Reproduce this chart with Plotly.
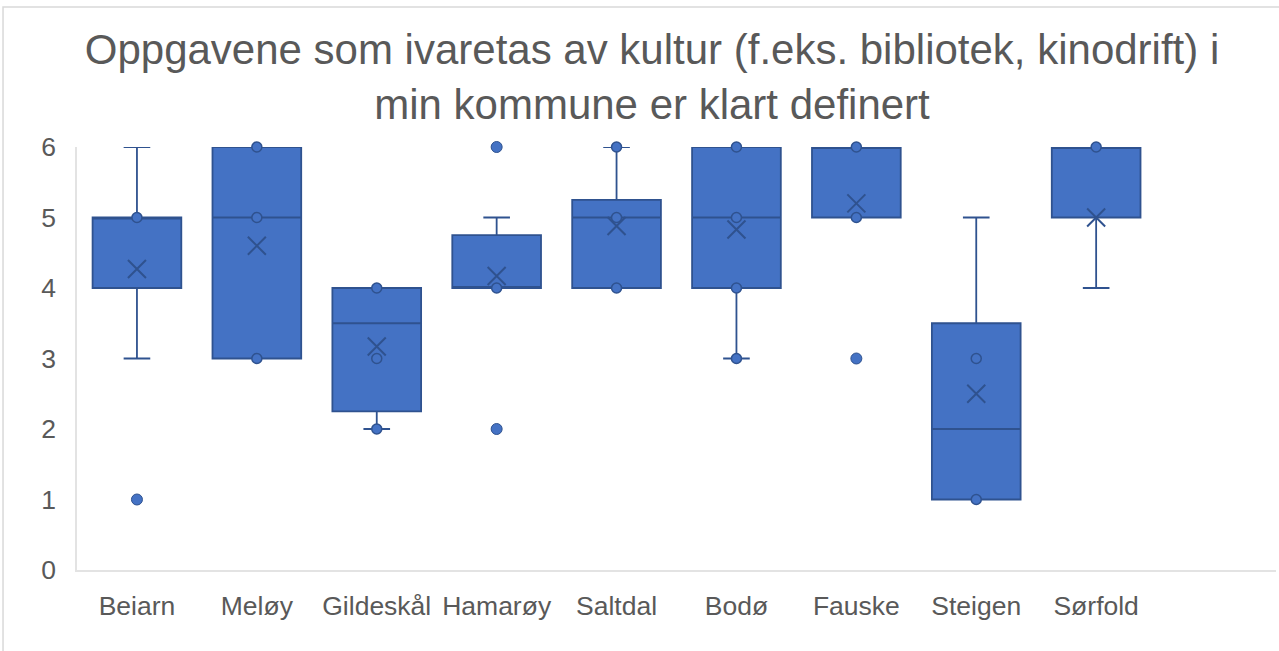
import plotly.graph_objects as go

categories = ["Beiarn", "Meløy", "Gildeskål", "Hamarøy", "Saltdal", "Bodø", "Fauske", "Steigen", "Sørfold"]
q1 = [4, 3, 2.25, 4, 4, 4, 5, 1, 5]
median = [5, 5, 3.5, 4, 5, 5, 6, 2, 6]
q3 = [5, 6, 4, 4.75, 5.25, 6, 6, 3.5, 6]
lower_whisker = [3, 3, 2, 4, 4, 3, 5, 1, 4]
upper_whisker = [6, 6, 4, 5, 6, 6, 6, 5, 6]
means = [4.27, 4.6, 3.17, 4.17, 4.88, 4.83, 5.2, 2.5, 5.0]

inner_cat = ["Beiarn", "Meløy", "Meløy", "Meløy", "Gildeskål", "Gildeskål", "Gildeskål", "Hamarøy",
             "Saltdal", "Saltdal", "Saltdal", "Bodø", "Bodø", "Bodø", "Bodø", "Fauske", "Fauske",
             "Steigen", "Steigen", "Sørfold"]
inner_val = [5, 6, 5, 3, 4, 3, 2, 4, 6, 5, 4, 6, 5, 4, 3, 6, 5, 3, 1, 6]
outlier_cat = ["Beiarn", "Hamarøy", "Hamarøy", "Fauske"]
outlier_val = [1, 6, 2, 3]

FILL = "#4472C4"
EDGE = "#2F528F"
TEXT = "#595959"
FONT = "Liberation Sans, Arial, sans-serif"

fig = go.Figure()
fig.add_trace(go.Box(
    x=categories, q1=q1, median=median, q3=q3,
    lowerfence=lower_whisker, upperfence=upper_whisker,
    fillcolor=FILL, line=dict(color=EDGE, width=1.8),
    width=0.74, whiskerwidth=0.3, boxpoints=False, showlegend=False, hoverinfo="skip",
))
fig.add_trace(go.Scatter(
    x=inner_cat, y=inner_val, mode="markers", cliponaxis=False, showlegend=False,
    marker=dict(symbol="circle", size=10, color=FILL, line=dict(color=EDGE, width=1.5)),
))
fig.add_trace(go.Scatter(
    x=outlier_cat, y=outlier_val, mode="markers", cliponaxis=False, showlegend=False,
    marker=dict(symbol="circle", size=11, color=FILL, line=dict(color=EDGE, width=1)),
))
fig.add_trace(go.Scatter(
    x=categories, y=means, mode="markers", cliponaxis=False, showlegend=False,
    marker=dict(symbol="x-thin", size=18, line=dict(color=EDGE, width=2)),
))

fig.add_shape(type="rect", xref="paper", yref="paper",
              x0=-0.0617, x1=1.05, y0=-0.4, y1=1.331,
              line=dict(color="#d9d9d9", width=1.5), fillcolor="rgba(0,0,0,0)", layer="below")

fig.update_layout(
    width=1279, height=651,
    paper_bgcolor="white", plot_bgcolor="white",
    margin=dict(l=77, r=3, t=147, b=81),
    font=dict(family=FONT, color=TEXT),
    title=dict(
        text="Oppgavene som ivaretas av kultur (f.eks. bibliotek, kinodrift) i<br>min kommune er klart definert",
        font=dict(family=FONT, size=42, color=TEXT),
        x=652 / 1279, xanchor="center", xref="container",
        y=1 - 64 / 651, yanchor="top", yref="container",
    ),
    xaxis=dict(
        type="category", categoryorder="array", categoryarray=categories,
        range=[-0.5, 9.5], showgrid=False, zeroline=False,
        showline=True, linecolor="#e3e3e3", linewidth=1.5,
        ticks="", tickfont=dict(size=26.5, color=TEXT), ticklabelstandoff=11,
    ),
    yaxis=dict(
        range=[0, 6], dtick=1, showgrid=False, zeroline=False,
        showline=True, linecolor="#e3e3e3", linewidth=1.5,
        ticks="", tickfont=dict(size=26.5, color=TEXT), ticklabelstandoff=14,
    ),
)

fig.write_html("out.html", config={"displayModeBar": False},
               post_script="document.body.style.margin='0';document.body.style.overflow='hidden';")
